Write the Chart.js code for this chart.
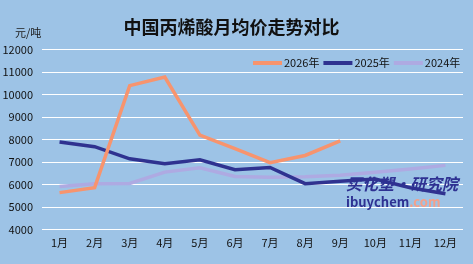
<!DOCTYPE html>
<html>
<head>
<meta charset="utf-8">
<script src="https://cdn.jsdelivr.net/npm/chart.js@4/dist/chart.umd.min.js"></script>
<style>
  html, body { margin: 0; padding: 0; background: #9dc3e6; }
  #wrap { width: 473px; height: 264px; }
</style>
</head>
<body>
<div id="wrap"><canvas id="chartCanvas" width="473" height="264"></canvas></div>
<script>
const months = ["1月", "2月", "3月", "4月", "5月", "6月", "7月", "8月", "9月", "10月", "11月", "12月"];
const price2026 = [5650, 5870, 10400, 10780, 8200, 7600, 6980, 7300, 7950];
const price2025 = [7900, 7690, 7150, 6930, 7110, 6670, 6770, 6050, 6150, 6250, 5870, 5600];
const price2024 = [5920, 6040, 6060, 6560, 6750, 6370, 6330, 6350, 6420, 6550, 6700, 6860];
const yTicks = [4000, 5000, 6000, 7000, 8000, 9000, 10000, 11000, 12000];

const font = "'Noto Sans CJK SC', 'Noto Sans', sans-serif";

// unit label, legend and watermark drawn on top
const extras = {
  id: "extras",
  afterDraw(chart) {
    const c = chart.ctx;
    c.save();
    c.fillStyle = "#1a1a1a";
    c.font = "11px " + font;
    c.textBaseline = "middle";
    c.fillText("元/吨", 15, 33);

    // legend, right-aligned inside the plot
    let x = 253;
    chart.data.datasets.forEach(ds => {
      c.fillStyle = ds.borderColor;
      c.fillRect(x, 61, 29, 4);
      c.fillStyle = "#111";
      c.font = "11px " + font;
      c.fillText(ds.label, x + 31, 63);
      x += 31 + c.measureText(ds.label).width + 4;
    });

    c.font = "italic bold 16px " + font;
    c.fillStyle = "#2e3192";
    c.fillText("买化塑·研究院", 346, 184);
    c.font = "bold 13px " + font;
    c.fillText("ibuychem", 346, 202);
    const w = c.measureText("ibuychem").width;
    c.fillStyle = "#f4a08a";
    c.fillText(".com", 346 + w, 202);
    c.restore();
  }
};

new Chart(document.getElementById("chartCanvas"), {
  type: "line",
  data: {
    labels: months,
    datasets: [
      { label: "2026年", data: price2026, borderColor: "#f7946e", backgroundColor: "#f7946e" },
      { label: "2025年", data: price2025, borderColor: "#2f3290", backgroundColor: "#2f3290" },
      { label: "2024年", data: price2024, borderColor: "#aeaae2", backgroundColor: "#aeaae2" }
    ]
  },
  options: {
    responsive: false,
    animation: false,
    elements: {
      line: { borderWidth: 3.5, tension: 0 },
      point: { radius: 0 }
    },
    layout: { padding: { left: 0, right: 10, top: 0, bottom: 9 } },
    plugins: {
      title: {
        display: true,
        text: "中国丙烯酸月均价走势对比",
        color: "#111",
        font: { family: font, size: 18, weight: "bold" },
        padding: { top: 16, bottom: 12 }
      },
      legend: { display: false },
      tooltip: { enabled: false }
    },
    scales: {
      x: {
        offset: true,
        grid: { display: false, drawTicks: false },
        border: { display: false },
        ticks: { color: "#111", font: { family: font, size: 11 }, padding: 6, maxRotation: 0 }
      },
      y: {
        min: 4000,
        max: 12000,
        afterFit(axis) { axis.width = 42; },
        afterBuildTicks(axis) { axis.ticks = yTicks.map(v => ({ value: v })); },
        grid: { color: "#ffffff", lineWidth: 1, drawTicks: false },
        border: { display: false },
        ticks: { color: "#111", font: { family: font, size: 11 }, padding: 9, callback: v => String(v) }
      }
    }
  },
  plugins: [extras]
});
</script>
</body>
</html>
